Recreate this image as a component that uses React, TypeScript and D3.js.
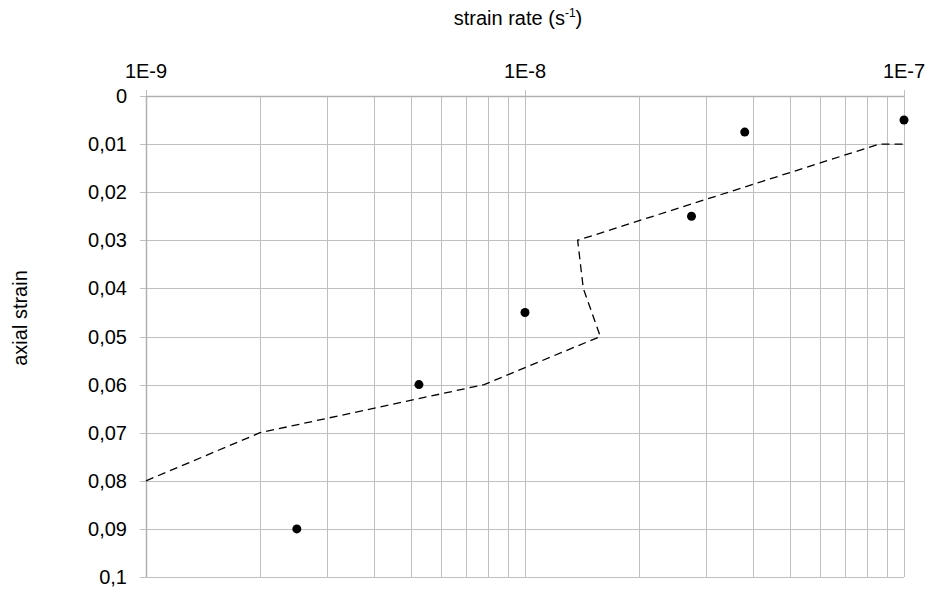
import React from "react";
import * as d3 from "d3";

const pointRates = [2.5e-9, 5.25e-9, 1e-8, 2.75e-8, 3.8e-8, 1e-7];
const pointStrains = [0.09, 0.06, 0.045, 0.025, 0.0075, 0.005];

const lineRates = [1e-9, 2e-9, 7.8e-9, 1.58e-8, 1.425e-8, 1.377e-8, 8.6e-8, 1e-7];
const lineStrains = [0.08, 0.07, 0.06, 0.05, 0.04, 0.03, 0.01, 0.01];

const xMajorTicks = [1e-9, 1e-8, 1e-7];
const xMajorLabels = ["1E-9", "1E-8", "1E-7"];
const yTicks = [0, 0.01, 0.02, 0.03, 0.04, 0.05, 0.06, 0.07, 0.08, 0.09, 0.1];
const yTickLabels = ["0", "0,01", "0,02", "0,03", "0,04", "0,05", "0,06", "0,07", "0,08", "0,09", "0,1"];

const W = 934;
const H = 594;
const FONT = "'Liberation Sans', Arial, sans-serif";

export default function App() {
  const x = d3.scaleLog().domain([1e-9, 1e-7]).range([146, 904]);
  const y = d3.scaleLinear().domain([0, 0.1]).range([96, 577]);

  const minorTicks: number[] = [];
  for (const dec of [1e-9, 1e-8]) {
    for (let m = 2; m <= 9; m++) minorTicks.push(m * dec);
  }
  const allX = [...xMajorTicks, ...minorTicks];

  const linePts = lineRates.map((r, i) => [r, lineStrains[i]] as [number, number]);
  const lineGen = d3
    .line<[number, number]>()
    .x((d) => x(d[0]))
    .y((d) => y(d[1]));

  const gridColor = "#bfbfbf";

  return (
    <svg
      width={W}
      height={H}
      style={{ position: "absolute", left: 0, top: 0, background: "#fff" }}
      fontFamily={FONT}
    >
      <rect x={0} y={0} width={W} height={H} fill="#fff" />
      {/* vertical grid */}
      {allX.map((t, i) => (
        <line
          key={"vx" + i}
          x1={Math.round(x(t)) + 0.5}
          x2={Math.round(x(t)) + 0.5}
          y1={y(0)}
          y2={y(0.1)}
          stroke={gridColor}
          strokeWidth={1}
        />
      ))}
      {/* major ticks upward */}
      {xMajorTicks.map((t, i) => (
        <line
          key={"mt" + i}
          x1={Math.round(x(t)) + 0.5}
          x2={Math.round(x(t)) + 0.5}
          y1={y(0) - 6}
          y2={y(0)}
          stroke={gridColor}
          strokeWidth={1}
        />
      ))}
      {/* horizontal grid */}
      {yTicks.map((t, i) => (
        <line
          key={"hy" + i}
          x1={140}
          x2={x(1e-7)}
          y1={Math.round(y(t)) + 0.5}
          y2={Math.round(y(t)) + 0.5}
          stroke={gridColor}
          strokeWidth={1}
        />
      ))}
      {/* left axis line */}
      <line
        x1={Math.round(x(1e-9)) + 0.5}
        x2={Math.round(x(1e-9)) + 0.5}
        y1={y(0)}
        y2={y(0.1)}
        stroke="#b0b0b0"
        strokeWidth={1.5}
      />
      {/* top axis line */}
      <line
        x1={x(1e-9)}
        x2={x(1e-7)}
        y1={Math.round(y(0)) + 0.5}
        y2={Math.round(y(0)) + 0.5}
        stroke="#b0b0b0"
        strokeWidth={1.5}
      />
      {/* dashed line */}
      <path
        d={lineGen(linePts) || ""}
        fill="none"
        stroke="#000"
        strokeWidth={1.3}
        strokeDasharray="8,5"
      />
      {/* points */}
      {pointRates.map((r, i) => (
        <circle key={"p" + i} cx={x(r)} cy={y(pointStrains[i])} r={4.5} fill="#000" />
      ))}
      {/* y tick labels */}
      {yTicks.map((t, i) => (
        <text
          key={"yl" + i}
          x={127}
          y={y(t)}
          dy="0.35em"
          textAnchor="end"
          fontSize={20}
          fill="#000"
        >
          {yTickLabels[i]}
        </text>
      ))}
      {/* x tick labels */}
      {xMajorTicks.map((t, i) => (
        <text key={"xl" + i} x={x(t)} y={78} textAnchor="middle" fontSize={20} fill="#000">
          {xMajorLabels[i]}
        </text>
      ))}
      {/* x axis title */}
      <text x={518} y={25} textAnchor="middle" fontSize={20} fill="#000">
        strain rate (s
        <tspan fontSize={12} dy={-8}>
          -1
        </tspan>
        <tspan dy={8}>)</tspan>
      </text>
      {/* y axis title */}
      <text
        transform={`translate(27, ${318}) rotate(-90)`}
        textAnchor="middle"
        fontSize={20}
        fill="#000"
      >
        axial strain
      </text>
    </svg>
  );
}
